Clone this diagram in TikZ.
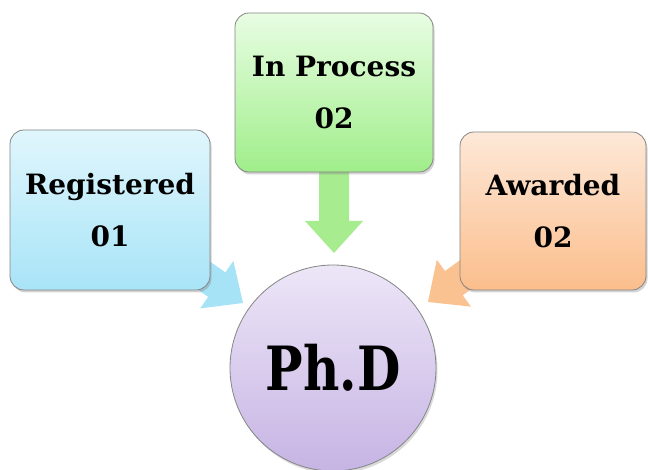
\documentclass[tikz,border=0pt]{standalone}
\usepackage{fontspec}
\setmainfont{DejaVu Serif}
\usetikzlibrary{shadows,calc}
\definecolor{regtop}{HTML}{E0F6FD}
\definecolor{regbot}{HTML}{A8E4F7}
\definecolor{regarr}{HTML}{A6E3F7}
\definecolor{protop}{HTML}{E8FDE3}
\definecolor{probot}{HTML}{A0EE8A}
\definecolor{proarr}{HTML}{A8EC90}
\definecolor{awatop}{HTML}{FDE8D8}
\definecolor{awabot}{HTML}{FBBE8C}
\definecolor{awaarr}{HTML}{FBC291}
\definecolor{phdtop}{HTML}{EDE6F7}
\definecolor{phdbot}{HTML}{C6B4E4}
\definecolor{edge}{HTML}{858585}
\tikzset{
  infobox/.style={draw=edge, line width=0.8pt, rounded corners=14pt,
    align=center, inner sep=0pt,
    font=\fontsize{28}{52}\selectfont\bfseries,
    drop shadow={opacity=0.35, shadow xshift=1.5pt, shadow yshift=-2.5pt}},
  fatarrow/.style={fill=#1, draw=none}
}
% fat block arrow from the centre of node #1 to coordinate #2
\newcommand\fatarr[3]{%
  \path[fatarrow=#3] let \p1=($(#2)-(#1.center)$), \n1={atan2(\y1,\x1)} in
    (#2) -- ($(#2)+(\n1:-32)+(\n1+90:29)$) -- ($(#2)+(\n1:-32)+(\n1+90:15)$)
    -- ($(#1.center)+(\n1+90:15)$) -- ($(#1.center)+(\n1-90:15)$)
    -- ($(#2)+(\n1:-32)+(\n1-90:15)$) -- ($(#2)+(\n1:-32)+(\n1-90:29)$) -- cycle;}
\begin{document}
\begin{tikzpicture}[x=1pt,y=1pt]
\useasboundingbox (0,0) rectangle (648,470);
% arrow tips
\coordinate (regtip) at (243,167);
\coordinate (protip) at (334,217);
\coordinate (awatip) at (428,168);
% box centres
\coordinate (regc) at (110,260);
\coordinate (proc) at (334,377.5);
\coordinate (awac) at (553,259);
% arrows behind boxes
\fatarr{regc}{regtip}{regarr}
\fatarr{proc}{protip}{proarr}
\fatarr{awac}{awatip}{awaarr}
% boxes
\node[infobox, top color=regtop, bottom color=regbot,
  minimum width=200pt, minimum height=160pt] (reg) at (regc) {Registered\\01};
\node[infobox, top color=protop, bottom color=probot,
  minimum width=198pt, minimum height=159pt] (pro) at (proc) {In Process\\02};
\node[infobox, top color=awatop, bottom color=awabot,
  minimum width=186pt, minimum height=158pt] (awa) at (awac) {Awarded\\02};
% circle
\node[circle, draw=edge, line width=0.8pt, top color=phdtop, bottom color=phdbot,
  minimum size=206pt, inner sep=0pt,
  drop shadow={opacity=0.3, shadow xshift=1.5pt, shadow yshift=-2.5pt},
  font=\fontsize{61}{70}\selectfont\bfseries] (phd) at (333,102) {\scalebox{0.82}[1]{Ph.D}};
\end{tikzpicture}
\end{document}
